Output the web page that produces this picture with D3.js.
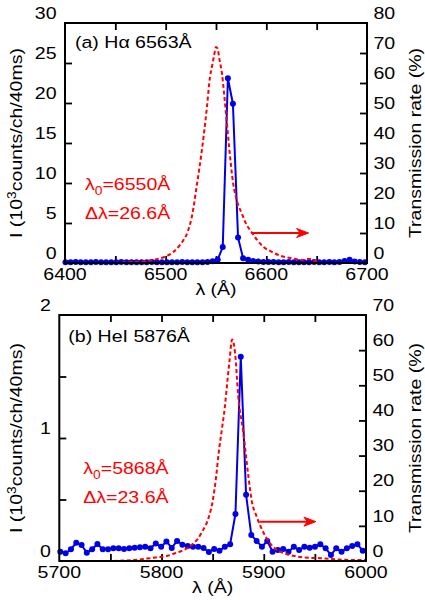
<!DOCTYPE html>
<html>
<head>
<meta charset="utf-8">
<script src="https://cdn.jsdelivr.net/npm/d3@7"></script>
<style>
  html, body { margin: 0; padding: 0; background: #fff; }
  svg { display: block; font-family: "Liberation Sans", Arial, Helvetica, sans-serif; }
</style>
</head>
<body>
<svg id="chart" width="425" height="600"></svg>
<script>
// ---------- (a) H-alpha 6563 Å ----------
const lamA = [6400.5, 6405.5, 6410.6, 6415.6, 6420.7, 6425.7, 6430.7, 6435.8, 6440.8, 6445.9,
              6450.9, 6455.9, 6461.0, 6466.0, 6471.1, 6476.1, 6481.1, 6486.2, 6491.2, 6496.3,
              6501.3, 6506.3, 6511.4, 6516.4, 6521.5, 6526.5, 6531.5, 6536.6, 6541.6, 6546.7,
              6551.7, 6556.7, 6561.8, 6566.8, 6571.9, 6576.9, 6581.9, 6587.0, 6592.0, 6597.1,
              6602.1, 6607.1, 6612.2, 6617.2, 6622.3, 6627.3, 6632.3, 6637.4, 6642.4, 6647.5,
              6652.5, 6657.5, 6662.6, 6667.6, 6672.7, 6677.7, 6682.7, 6687.8, 6692.8, 6697.9];
const intA = [0.10, 0.10, 0.11, 0.10, 0.09, 0.10, 0.11, 0.10, 0.10, 0.09,
              0.10, 0.11, 0.10, 0.10, 0.09, 0.10, 0.10, 0.11, 0.10, 0.10,
              0.09, 0.10, 0.10, 0.11, 0.10, 0.10, 0.09, 0.10, 0.11, 0.22,
              0.42, 2.0, 23.1, 19.9, 3.2, 0.6, 0.40, 0.25, 0.18, 0.14,
              0.12, 0.11, 0.10, 0.10, 0.11, 0.10, 0.10, 0.09, 0.10, 0.11,
              0.10, 0.10, 0.12, 0.10, 0.14, 0.25, 0.42, 0.20, 0.12, 0.10];
// filter transmission curve (%)
const trLamA = [6450, 6465, 6480, 6490, 6500, 6507, 6513, 6518, 6522, 6526,
                6531, 6536, 6538, 6541, 6544, 6546, 6548, 6550, 6551.5, 6553.5,
                6556, 6558, 6560.5, 6563, 6567, 6571, 6575.5, 6580, 6585, 6591,
                6597, 6605, 6614, 6625, 6636, 6640, 6644, 6647, 6650];
const trA = [0, 0.3, 0.6, 1.2, 2.2, 3.5, 5.5, 7.8, 10.5, 15.4,
             26, 37.7, 43, 52, 62, 65.5, 69, 72, 71.5, 67.7,
             63, 56.6, 47.7, 38.8, 26.6, 20.5, 16.6, 13, 10.4, 7.6,
             5.4, 3.8, 2.4, 1.6, 1.0, 1.3, 1.3, 0.9, 0.5];

// ---------- (b) HeI 5876 Å ----------
const lamB = [5701.0, 5706.2, 5711.4, 5716.6, 5721.8, 5726.9, 5732.1, 5737.3, 5742.5, 5747.7,
              5752.9, 5758.1, 5763.3, 5768.5, 5773.7, 5778.9, 5784.0, 5789.2, 5794.4, 5799.6,
              5804.8, 5810.0, 5815.2, 5820.4, 5825.6, 5830.8, 5835.9, 5841.1, 5846.3, 5851.5,
              5856.7, 5861.9, 5867.1, 5872.3, 5877.5, 5882.7, 5887.8, 5893.0, 5898.2, 5903.4,
              5908.6, 5913.8, 5919.0, 5924.2, 5929.4, 5934.6, 5939.7, 5944.9, 5950.1, 5955.3,
              5960.5, 5965.7, 5970.9, 5976.1, 5981.3, 5986.5, 5991.6, 5996.8];
const intB = [0.076, 0.063, 0.095, 0.149, 0.130, 0.067, 0.095, 0.138, 0.095, 0.095,
              0.103, 0.103, 0.098, 0.103, 0.108, 0.111, 0.116, 0.103, 0.142, 0.116,
              0.159, 0.106, 0.163, 0.133, 0.122, 0.116, 0.116, 0.106, 0.073, 0.098,
              0.084, 0.116, 0.136, 0.382, 1.661, 0.539, 0.211, 0.163, 0.116, 0.163,
              0.076, 0.089, 0.098, 0.076, 0.116, 0.089, 0.116, 0.108, 0.116, 0.136,
              0.103, 0.049, 0.103, 0.076, 0.103, 0.122, 0.136, 0.084];
const trLamB = [5753, 5773, 5794, 5805, 5813, 5820, 5826, 5831, 5836, 5840,
                5843, 5846, 5850, 5853, 5856, 5859, 5862, 5864, 5866.5, 5869,
                5872, 5875, 5880, 5885, 5888, 5893, 5900, 5905, 5909, 5915,
                5922, 5930, 5939, 5955, 5965, 5984, 6000];
const trB = [0, 0.3, 1.0, 1.4, 2.2, 2.9, 3.8, 5, 6.5, 8.5,
             10, 12.3, 17, 23, 31, 37.4, 44, 50, 57, 63,
             59, 47, 36.5, 24, 17.5, 12.7, 7.9, 5.5, 4.1, 2.8,
             2.0, 1.4, 1.0, 0.8, 0.6, 0.3, 0.3];

// ---------- axis ticks and labels ----------
const xTicksA = [6450, 6500, 6550, 6600, 6650];
const xLabelsA = [6400, 6500, 6600, 6700];
const yTicksA = [5, 10, 15, 20, 25];
const yLabelsA = [0, 5, 10, 15, 20, 25, 30];
const y2TicksA = [10, 20, 30, 40, 50, 60, 70];
const y2LabelsA = [0, 10, 20, 30, 40, 50, 60, 70, 80];

const xTicksB = [5750, 5800, 5850, 5900, 5950];
const xLabelsB = [5700, 5800, 5900, 6000];
const yTicksB = [0.5, 1, 1.5];
const yLabelsB = [0, 1, 2];
const y2TicksB = [10, 20, 30, 40, 50, 60];
const y2LabelsB = [0, 10, 20, 30, 40, 50, 60, 70];

const panels = [
  {
    box: { l: 65, r: 367, t: 23, b: 263 },
    xDom: [6400, 6700], yDom: [0, 30], y2Dom: [0, 80],
    xTicks: xTicksA, xLabels: xLabelsA, yTicks: yTicksA, yLabels: yLabelsA,
    y2Ticks: y2TicksA, y2Labels: y2LabelsA,
    lam: lamA, inten: intA, trLam: trLamA, tr: trA,
    arrow: [6585, 6642, 10],
    title: ["(a) H", "α", " 6563Å"], center: "6550", width: "26.6",
    tPos: [10, 24.5], cPos: [20, 167], wPos: [20, 196]
  },
  {
    box: { l: 59.3, r: 366, t: 315, b: 561 },
    xDom: [5700, 6000], yDom: [0, 2], y2Dom: [0, 70],
    xTicks: xTicksB, xLabels: xLabelsB, yTicks: yTicksB, yLabels: yLabelsB,
    y2Ticks: y2TicksB, y2Labels: y2LabelsB,
    lam: lamB, inten: intB, trLam: trLamB, tr: trB,
    arrow: [5896, 5951, 11.2],
    title: ["(b) HeI 5876Å"], center: "5868", width: "23.6",
    tPos: [9, 26.5], cPos: [24, 159], wPos: [24, 188.3]
  }
];

const svg = d3.select("#chart");
const FS = 17;       // base font size
const SX = 1.15;     // horizontal glyph stretch
const BLUE = "#0000e6";
const RED = "#ff0000";

// text placed at (x, y), optionally rotated, with wide glyphs
function label(parent, x, y, anchor, rot) {
  const g = parent.append("g")
    .attr("transform", `translate(${x},${y})` + (rot ? ` rotate(${rot})` : ""));
  return g.append("text")
    .attr("transform", `scale(${SX},1)`)
    .attr("text-anchor", anchor)
    .attr("font-size", FS);
}

panels.forEach(p => {
  const { l, r, t, b } = p.box;
  const g = svg.append("g");
  const x = d3.scaleLinear().domain(p.xDom).range([l, r]);
  const y = d3.scaleLinear().domain(p.yDom).range([b, t]);
  const y2 = d3.scaleLinear().domain(p.y2Dom).range([b, t]);

  // inward ticks on all four sides
  const tickStyle = sel => {
    sel.select(".domain").remove();
    sel.selectAll(".tick line").attr("stroke", "#000").attr("stroke-width", 1.8);
    sel.selectAll(".tick text").remove();
  };
  g.append("g").attr("transform", `translate(0,${b})`)
    .call(d3.axisBottom(x).tickValues(p.xTicks).tickSize(-7).tickFormat("")).call(tickStyle);
  g.append("g").attr("transform", `translate(0,${t})`)
    .call(d3.axisTop(x).tickValues(p.xTicks).tickSize(-7).tickFormat("")).call(tickStyle);
  g.append("g").attr("transform", `translate(${l},0)`)
    .call(d3.axisLeft(y).tickValues(p.yTicks).tickSize(-7).tickFormat("")).call(tickStyle);
  g.append("g").attr("transform", `translate(${r},0)`)
    .call(d3.axisRight(y2).tickValues(p.y2Ticks).tickSize(-7).tickFormat("")).call(tickStyle);

  // tick labels
  p.xLabels.forEach(v => label(g, x(v), b + 17, "middle").text(v));
  p.yLabels.forEach(v => label(g, l - 8.5, y(v) - 4.3, "end").text(v));
  p.y2Labels.forEach(v => label(g, r + 6.5, y2(v) - 4.3, "start").text(v));

  // axis titles
  label(g, (l + r) / 2, b + 31.5, "middle").text("λ (Å)");
  const yt = label(g, 21.5, (t + b) / 2, "middle", -90);
  yt.append("tspan").text("I (10");
  yt.append("tspan").attr("font-size", 12).attr("dy", -6).text("3");
  yt.append("tspan").attr("dy", 6).text("counts/ch/40ms)");
  label(g, 421, (t + b) / 2, "middle", -90).text("Transmission rate (%)");

  // measured intensity
  const line = d3.line().x((d, i) => x(p.lam[i])).y(d => y(d));
  g.append("path").datum(p.inten)
    .attr("d", line).attr("fill", "none")
    .attr("stroke", BLUE).attr("stroke-width", 2).attr("stroke-linejoin", "round");
  g.append("g").selectAll("circle").data(p.inten).join("circle")
    .attr("cx", (d, i) => x(p.lam[i])).attr("cy", d => y(d)).attr("r", 3)
    .attr("fill", BLUE);

  // filter transmission
  const tline = d3.line().x((d, i) => x(p.trLam[i])).y(d => y2(d)).curve(d3.curveMonotoneX);
  g.append("path").datum(p.tr)
    .attr("d", tline).attr("fill", "none")
    .attr("stroke", RED).attr("stroke-width", 2).attr("stroke-dasharray", "4,2.6");

  // arrow pointing to the right-hand axis
  const [a0, a1, av] = p.arrow;
  const ax0 = x(a0), ax1 = x(a1), ay = y2(av);
  g.append("line").attr("x1", ax0).attr("x2", ax1 - 6).attr("y1", ay).attr("y2", ay)
    .attr("stroke", RED).attr("stroke-width", 2);
  g.append("path")
    .attr("d", `M${ax1},${ay} L${ax1 - 12},${ay - 4.5} L${ax1 - 8.5},${ay} L${ax1 - 12},${ay + 4.5} Z`)
    .attr("fill", RED).attr("stroke", RED).attr("stroke-width", 1).attr("stroke-linejoin", "miter");

  // annotations
  const tt = label(g, l + p.tPos[0], t + p.tPos[1], "start");
  p.title.forEach(s => tt.append("tspan").text(s));
  const c = label(g, l + p.cPos[0], t + p.cPos[1], "start").attr("fill", RED);
  c.append("tspan").text("λ");
  c.append("tspan").attr("font-size", 12).attr("dy", 5).text("0");
  c.append("tspan").attr("dy", -5).text("=" + p.center + "Å");
  label(g, l + p.wPos[0], t + p.wPos[1], "start").attr("fill", RED).text("Δλ=" + p.width + "Å");

  // frame
  g.append("rect").attr("x", l).attr("y", t).attr("width", r - l).attr("height", b - t)
    .attr("fill", "none").attr("stroke", "#000").attr("stroke-width", 2);
});
</script>
</body>
</html>
